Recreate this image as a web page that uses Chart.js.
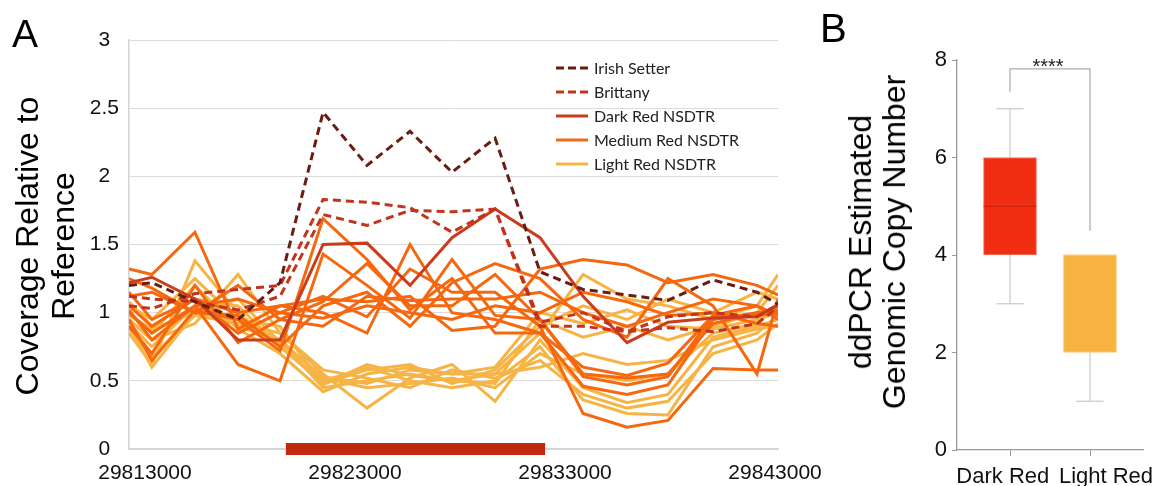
<!DOCTYPE html>
<html><head><meta charset="utf-8">
<script src="https://cdn.jsdelivr.net/npm/chart.js@4.4.0/dist/chart.umd.min.js"></script>
<style>
html,body{margin:0;padding:0;background:#fff;}
#wrap{position:relative;width:1165px;height:486px;overflow:hidden;font-family:'Liberation Sans',Arial,sans-serif;color:#000;}
#ca{position:absolute;left:0;top:0;}
#cb{position:absolute;left:845px;top:0;}
.panel{position:absolute;line-height:40px;}
.ytitle{position:absolute;white-space:nowrap;text-align:center;font-size:32px;transform:translate(-50%,-50%) rotate(-90deg);}
</style></head>
<body>
<div id="wrap">
<canvas id="ca" width="845" height="486"></canvas>
<canvas id="cb" width="320" height="486"></canvas>
<div class="panel" style="left:12px;top:14px;font-size:39px;line-height:39px;">A</div>
<div class="panel" style="left:820px;top:8px;font-size:40px;">B</div>
<div class="ytitle" style="left:45px;top:246px;line-height:36px;">Coverage Relative to<br>Reference</div>
<div class="ytitle" style="left:877px;top:242px;line-height:34px;">ddPCR Estimated<br>Genomic Copy Number</div>
</div>
<script>
// ---------- Panel A data ----------
const xPositions = [29812240, 29813330, 29815380, 29817430, 29819430, 29821480, 29823570, 29825620, 29827620, 29829670, 29831810, 29833860, 29835950, 29837900, 29840050, 29842140, 29843140];
const xTickValues = [29813000, 29823000, 29833000, 29843000];
const yTickValues = [0, 0.5, 1, 1.5, 2, 2.5, 3];
const duplicatedRegion = [29819710, 29832050];

const irishSetter = [1.20, 1.22, 1.08, 0.95, 1.22, 2.47, 2.08, 2.33, 2.03, 2.28, 1.30, 1.17, 1.13, 1.09, 1.24, 1.15, 1.06];
const brittany1   = [1.05, 1.03, 1.14, 1.17, 1.20, 1.83, 1.81, 1.77, 1.59, 1.76, 0.93, 1.00, 0.86, 0.89, 0.86, 0.92, 1.04];
const brittany2   = [1.12, 1.10, 1.08, 1.02, 1.12, 1.72, 1.64, 1.75, 1.74, 1.76, 0.90, 0.90, 0.86, 0.97, 1.00, 0.97, 1.06];
const darkRed1    = [1.22, 1.26, 1.10, 0.80, 0.80, 1.50, 1.51, 1.20, 1.55, 1.76, 1.55, 1.12, 0.78, 0.93, 0.96, 0.97, 1.06];

const medium1 = [1.32, 1.28, 1.59, 0.88, 1.05, 1.10, 1.08, 1.12, 0.87, 0.90, 1.32, 1.39, 1.35, 1.22, 1.28, 1.20, 1.13];
const medium2 = [1.02, 0.80, 1.05, 0.62, 0.50, 1.43, 1.20, 0.96, 1.39, 0.98, 0.95, 0.55, 0.52, 0.55, 0.92, 1.00, 1.00];
const medium3 = [0.95, 0.65, 1.02, 0.95, 0.72, 1.69, 1.39, 1.02, 1.25, 0.85, 0.85, 0.60, 0.54, 0.63, 0.98, 1.05, 0.98];
const medium4 = [1.05, 0.90, 1.10, 0.85, 1.00, 1.12, 0.97, 1.32, 1.15, 1.15, 0.90, 0.26, 0.16, 0.21, 0.59, 0.58, 0.58];
const medium5 = [1.12, 1.15, 1.00, 0.98, 0.75, 1.05, 1.15, 0.90, 1.22, 1.36, 1.25, 0.95, 0.82, 1.25, 1.05, 0.55, 1.10];
const medium6 = [1.15, 0.95, 1.10, 1.00, 1.05, 1.00, 0.85, 1.50, 1.00, 0.95, 0.85, 0.46, 0.40, 0.47, 0.95, 1.00, 1.02];
const medium7 = [1.25, 1.18, 1.00, 1.20, 0.95, 1.08, 1.36, 1.05, 1.05, 1.28, 0.95, 0.53, 0.47, 0.53, 0.98, 0.98, 1.00];
const medium8 = [0.90, 0.70, 1.20, 0.78, 0.95, 0.90, 1.12, 1.09, 1.10, 1.10, 1.15, 1.00, 0.90, 1.00, 1.10, 1.05, 0.95];
const medium9 = [1.00, 0.85, 1.05, 1.10, 1.00, 0.96, 1.05, 1.00, 0.95, 1.05, 1.00, 1.15, 1.08, 0.98, 1.00, 0.92, 0.90];

const light1 = [0.90, 0.60, 1.00, 0.95, 0.80, 0.45, 0.50, 0.55, 0.50, 0.55, 0.85, 1.28, 1.10, 1.05, 0.95, 1.05, 1.28];
const light2 = [0.85, 0.62, 1.38, 1.00, 0.75, 0.50, 0.60, 0.50, 0.45, 0.50, 0.75, 0.36, 0.26, 0.25, 0.75, 0.85, 0.98];
const light3 = [0.95, 0.80, 0.92, 1.28, 0.85, 0.55, 0.30, 0.52, 0.62, 0.35, 0.80, 0.45, 0.34, 0.40, 0.82, 0.90, 0.95];
const light4 = [1.00, 0.85, 1.20, 0.88, 0.70, 0.42, 0.55, 0.60, 0.55, 0.60, 1.00, 0.92, 1.02, 0.90, 0.88, 0.95, 1.00];
const light5 = [0.92, 0.75, 1.05, 0.90, 0.80, 0.52, 0.45, 0.48, 0.52, 0.45, 0.70, 0.55, 0.50, 0.55, 0.85, 0.92, 1.05];
const light6 = [1.08, 0.90, 1.10, 1.05, 0.75, 0.48, 0.58, 0.62, 0.48, 0.58, 0.90, 1.05, 0.95, 1.10, 1.00, 1.15, 1.10];
const light7 = [0.88, 0.68, 0.98, 0.92, 0.85, 0.58, 0.52, 0.45, 0.58, 0.52, 0.65, 0.40, 0.30, 0.35, 0.70, 0.80, 0.92];
const light8 = [1.05, 0.95, 1.25, 0.95, 0.90, 0.47, 0.62, 0.54, 0.50, 0.48, 0.95, 0.82, 0.90, 0.80, 0.90, 1.00, 1.20];
const light9 = [0.98, 0.88, 1.00, 1.10, 0.78, 0.53, 0.48, 0.58, 0.55, 0.55, 0.60, 0.70, 0.62, 0.65, 0.80, 0.88, 0.90];

const legendLabels = ['Irish Setter', 'Brittany', 'Dark Red NSDTR', 'Medium Red NSDTR', 'Light Red NSDTR'];

// ---------- Panel B data ----------
const boxCats = ['Dark Red', 'Light Red'];
const boxX = [1, 2];
const boxLabelX = [0.91, 2.2];
const boxMin = [3, 1];
const boxQ1 = [4, 2];
const boxMedian = [5, 4];
const boxQ3 = [6, 4];
const boxMax = [7, 4];
const bTickValues = [0, 2, 4, 6, 8];
const sigText = '****';
const sigY = [7.35, 7.82, 4.5]; // left end, bracket top, right end

// ---------- styles ----------
const styles = {
  irish:  {color: '#6b1c10', dash: [8, 5], width: 3},
  britt:  {color: '#c2341b', dash: [8, 5], width: 3},
  dark:   {color: '#c93c1c', dash: [], width: 3},
  medium: {color: '#f5680f', dash: [], width: 3},
  light:  {color: '#f7b446', dash: [], width: 3}
};
Chart.defaults.font.family = "'Liberation Sans', Arial, sans-serif";
Chart.defaults.color = '#111';

const pts = vals => vals.map((v, i) => ({x: xPositions[i], y: v}));
function lineDs(vals, st, order) {
  return {type: 'line', data: pts(vals), borderColor: st.color, borderDash: st.dash,
          borderWidth: st.width, pointRadius: 0, tension: 0, fill: false, order: order};
}
const dsA = [];
dsA.push({type: 'line', data: duplicatedRegion.map(x => ({x: x, y: 0})), borderColor: '#c1290e',
          borderWidth: 12, borderCapStyle: 'butt', pointRadius: 0, clip: false, order: 0});
dsA.push(lineDs(irishSetter, styles.irish, 1));
dsA.push(lineDs(brittany1, styles.britt, 2));
dsA.push(lineDs(brittany2, styles.britt, 2));
dsA.push(lineDs(darkRed1, styles.dark, 3));
[medium1, medium2, medium3, medium4, medium5, medium6, medium7, medium8, medium9].forEach(m => dsA.push(lineDs(m, styles.medium, 4)));
[light1, light2, light3, light4, light5, light6, light7, light8, light9].forEach(l => dsA.push(lineDs(l, styles.light, 5)));

const legendStyles = [styles.irish, styles.britt, styles.dark, styles.medium, styles.light];
const legendPlugin = {
  id: 'innerLegend',
  afterDatasetsDraw(chart) {
    const c = chart.ctx;
    c.save();
    legendLabels.forEach((lab, i) => {
      const st = legendStyles[i];
      const y = 68 + i * 24;
      c.beginPath();
      c.setLineDash(st.dash.length ? [8, 4] : []);
      c.strokeStyle = st.color; c.lineWidth = 3;
      c.moveTo(556, y); c.lineTo(588, y); c.stroke();
      c.setLineDash([]);
      c.fillStyle = '#222';
      c.font = "16px Lato, 'Liberation Sans', sans-serif";
      c.textBaseline = 'middle'; c.textAlign = 'left';
      c.fillText(lab, 594, y + 1);
    });
    c.restore();
  }
};

new Chart(document.getElementById('ca'), {
  type: 'line',
  data: {datasets: dsA},
  options: {
    responsive: false, animation: false,
    layout: {padding: {left: 0, right: 67, top: 40, bottom: 0}},
    plugins: {legend: {display: false}, tooltip: {enabled: false}},
    scales: {
      x: {type: 'linear', min: xPositions[0], max: xPositions[xPositions.length - 1],
          afterBuildTicks: s => { s.ticks = xTickValues.map(v => ({value: v})); },
          grid: {display: false}, border: {display: true, color: '#d4d4d4', width: 1.5},
          ticks: {font: {size: 21}, color: '#111', padding: 4, maxRotation: 0, autoSkip: false, callback: v => String(v)},
          afterFit: s => { s.height = 37; }},
      y: {type: 'linear', min: 0, max: 3,
          afterBuildTicks: s => { s.ticks = yTickValues.map(v => ({value: v})); },
          grid: {color: '#dcdcdc', drawTicks: false}, border: {display: true, color: '#d4d4d4', width: 1.5},
          ticks: {font: {size: 21}, color: '#111', padding: 10, crossAlign: 'center', callback: v => String(v)},
          afterFit: s => { s.width = 129; }}
    }
  },
  plugins: [legendPlugin]
});

// ---------- Panel B ----------
const boxHalf = 0.331, capHalf = 0.17;
const dsB = [];
dsB.push({type: 'bar', xAxisID: 'x', data: boxCats.map((c, i) => ({x: boxX[i], y: [boxQ1[i], boxQ3[i]]})),
          backgroundColor: ['#f22e12', '#f6b33f'], borderColor: ['#f37a66', '#f8c77a'], borderWidth: 1,
          borderSkipped: false, barThickness: 53, grouped: false, order: 2});
const whiskerColor = '#c9c9c9';
function seg(p, color, w, order) {
  return {type: 'line', xAxisID: 'x', data: p, borderColor: color, borderWidth: w, pointRadius: 0, tension: 0, order: order, clip: false};
}
boxCats.forEach((c, i) => {
  if (boxMax[i] > boxQ3[i]) {
    dsB.push(seg([{x: boxX[i], y: boxQ3[i]}, {x: boxX[i], y: boxMax[i]}], whiskerColor, 1.2, 3));
    dsB.push(seg([{x: boxX[i] - capHalf, y: boxMax[i]}, {x: boxX[i] + capHalf, y: boxMax[i]}], whiskerColor, 1.2, 3));
  }
  if (boxMin[i] < boxQ1[i]) {
    dsB.push(seg([{x: boxX[i], y: boxQ1[i]}, {x: boxX[i], y: boxMin[i]}], whiskerColor, 1.2, 3));
    dsB.push(seg([{x: boxX[i] - capHalf, y: boxMin[i]}, {x: boxX[i] + capHalf, y: boxMin[i]}], whiskerColor, 1.2, 3));
  }
  dsB.push(seg([{x: boxX[i] - boxHalf, y: boxMedian[i]}, {x: boxX[i] + boxHalf, y: boxMedian[i]}],
               i === 0 ? '#c4210b' : '#f8c77a', 1, 1));
});
dsB.push(seg([{x: boxX[0], y: sigY[0]}, {x: boxX[0], y: sigY[1]}, {x: boxX[1], y: sigY[1]}, {x: boxX[1], y: sigY[2]}], '#a9a9a9', 1.2, 1));

const sigPlugin = {
  id: 'sigText',
  afterDatasetsDraw(chart) {
    const c = chart.ctx, xs = chart.scales.x, ys = chart.scales.y;
    c.save();
    c.fillStyle = '#222';
    c.font = "20px 'Liberation Sans', Arial, sans-serif";
    c.textAlign = 'center'; c.textBaseline = 'alphabetic';
    c.fillText(sigText, xs.getPixelForValue((boxX[0] + boxX[1]) / 2) - 2, ys.getPixelForValue(sigY[1]) + 4);
    c.restore();
  }
};

new Chart(document.getElementById('cb'), {
  type: 'bar',
  data: {datasets: dsB},
  options: {
    responsive: false, animation: false,
    layout: {padding: {left: 0, right: 22, top: 60, bottom: 0}},
    plugins: {legend: {display: false}, tooltip: {enabled: false}},
    scales: {
      x: {type: 'linear', position: 'bottom', min: 0.3375, max: 2.6625, weight: 0, offset: false,
          afterBuildTicks: s => { s.ticks = boxX.map(v => ({value: v})); },
          grid: {display: true, offset: false, drawOnChartArea: false, drawTicks: true, tickLength: 6, color: '#999'},
          border: {display: true, color: '#999', width: 1.3},
          ticks: {display: false},
          afterFit: s => { s.height = 6; }},
      xl: {type: 'linear', position: 'bottom', min: 0.3375, max: 2.6625, weight: 1, offset: false,
          afterBuildTicks: s => { s.ticks = boxLabelX.map(v => ({value: v})); },
          grid: {display: false, offset: false}, border: {display: false},
          ticks: {font: {size: 22}, color: '#111', padding: 0, maxRotation: 0, autoSkip: false, callback: (v, i) => boxCats[i]},
          afterFit: s => { s.height = 30; }},
      y: {type: 'linear', min: 0, max: 8,
          afterBuildTicks: s => { s.ticks = bTickValues.map(v => ({value: v})); },
          grid: {display: true, drawOnChartArea: false, drawTicks: true, tickLength: 5, color: '#999'},
          border: {display: true, color: '#999', width: 1.3},
          ticks: {font: {size: 22}, color: '#111', padding: 5, callback: v => String(v)},
          afterFit: s => { s.width = 112; }}
    }
  },
  plugins: [sigPlugin]
});
</script>
</body></html>
